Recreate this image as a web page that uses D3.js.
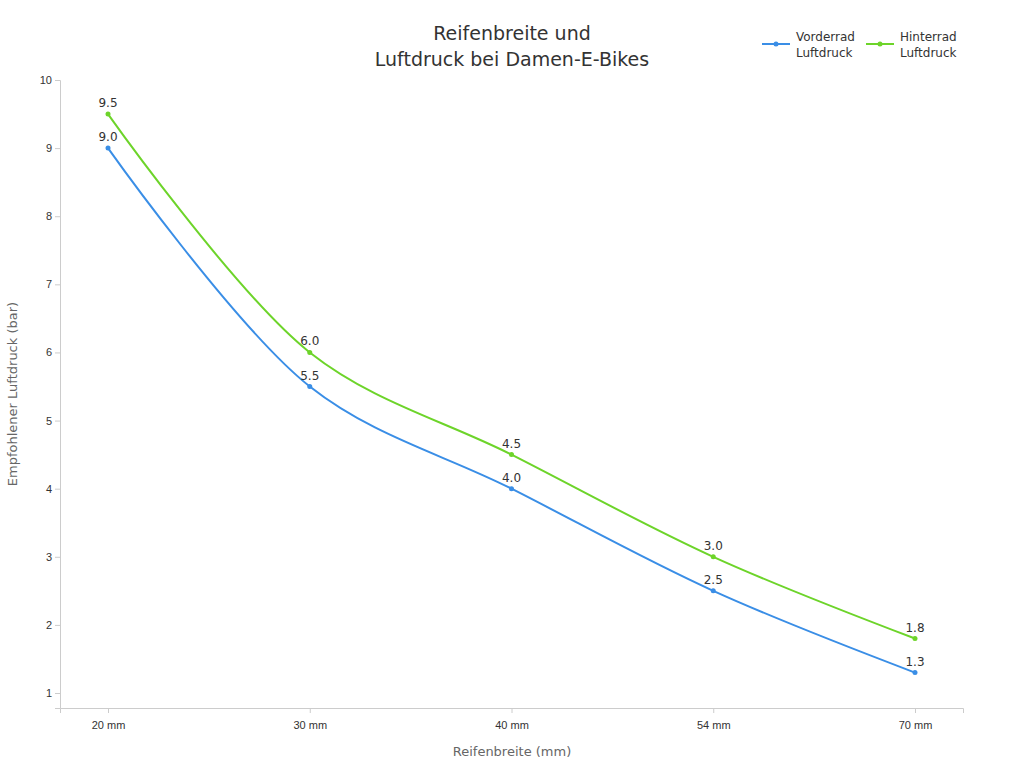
<!DOCTYPE html>
<html><head><meta charset="utf-8">
<script src="https://cdn.jsdelivr.net/npm/d3@7"></script>
<style>body{margin:0;background:#fff;font-family:"DejaVu Sans",sans-serif}</style>
</head><body><svg id="c" width="1024" height="768"></svg>
<script>
const categories=["20 mm","30 mm","40 mm","54 mm","70 mm"];
const vorderrad=[9.0,5.5,4.0,2.5,1.3];
const hinterrad=[9.5,6.0,4.5,3.0,1.8];
const yTicks=[1,2,3,4,5,6,7,8,9,10];
const seriesNames=[["Vorderrad","Luftdruck"],["Hinterrad","Luftdruck"]];
const colors=["#3a8ee6","#6dd42a"];

const svg=d3.select("#c");
const L=60,R=963,T=80,B=708;
const x=d3.scalePoint().domain(categories).range([L,R]).padding(0.238);
const y=d3.scaleLinear().domain([0.78,10]).range([B,T]);

svg.append("g").attr("transform",`translate(0,${B})`)
  .call(d3.axisBottom(x).tickSizeOuter(0).tickSize(5))
  .call(g=>{g.select(".domain").attr("stroke","#ccc");g.selectAll("line").attr("stroke","#ccc");
    g.selectAll("text").attr("font-size",11).attr("fill","#333").attr("dy","1.2em");});
svg.append("g").attr("transform",`translate(${L},0)`)
  .call(d3.axisLeft(y).tickValues(yTicks).tickSizeOuter(0).tickSize(5))
  .call(g=>{g.select(".domain").attr("stroke","#ccc");g.selectAll("line").attr("stroke","#ccc");
    g.selectAll("text").attr("font-size",11).attr("fill","#333");});

svg.append("text").attr("x",512).attr("y",40).attr("text-anchor","middle").attr("font-size",19).attr("fill","#333").text("Reifenbreite und");
svg.append("text").attr("x",512).attr("y",66).attr("text-anchor","middle").attr("font-size",19).attr("fill","#333").text("Luftdruck bei Damen-E-Bikes");
svg.append("text").attr("x",512).attr("y",756).attr("text-anchor","middle").attr("font-size",13).attr("fill","#666").text("Reifenbreite (mm)");
svg.append("text").attr("transform","translate(17,394) rotate(-90)").attr("text-anchor","middle").attr("font-size",13).attr("fill","#666").text("Empfohlener Luftdruck (bar)");

const line=d3.line().x((d,i)=>x(categories[i])).y(d=>y(d)).curve(d3.curveCatmullRom.alpha(0.5));
[vorderrad,hinterrad].forEach((s,k)=>{
  svg.append("path").attr("d",line(s)).attr("fill","none").attr("stroke",colors[k]).attr("stroke-width",2);
  s.forEach((v,i)=>{
    svg.append("circle").attr("cx",x(categories[i])).attr("cy",y(v)).attr("r",2.5).attr("fill",colors[k]);
    svg.append("text").attr("x",x(categories[i])).attr("y",y(v)-7).attr("text-anchor","middle").attr("font-size",12).attr("fill","#333").text(v.toFixed(1));
  });
});

const lx=[762,866];
seriesNames.forEach((n,k)=>{
  const g=svg.append("g");
  g.append("line").attr("x1",lx[k]).attr("x2",lx[k]+28).attr("y1",44).attr("y2",44).attr("stroke",colors[k]).attr("stroke-width",2);
  g.append("circle").attr("cx",lx[k]+14).attr("cy",44).attr("r",2.5).attr("fill",colors[k]);
  n.forEach((t,j)=>g.append("text").attr("x",lx[k]+34).attr("y",41+j*16).attr("font-size",12).attr("fill","#333").text(t));
});
</script></body></html>
